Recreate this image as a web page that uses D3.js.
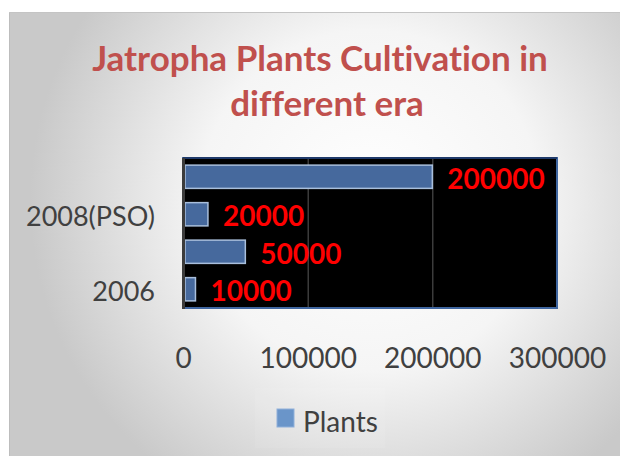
<!DOCTYPE html>
<html>
<head>
<meta charset="utf-8">
<script src="https://cdn.jsdelivr.net/npm/d3@7"></script>
<style>
  html, body { margin: 0; padding: 0; background: #fff; }
  svg { display: block; }
  text { font-variant-ligatures: none; }
</style>
</head>
<body>
<svg id="chart" width="620" height="456"></svg>
<script>
// data (bottom to top)
let categories = ["2006", "2007", "2008(PSO)", "2009"];
let plants = [10000, 50000, 20000, 200000];
let shownLabels = ["2006", "2008(PSO)"]; // Excel skips every other label
let xTicks = [0, 100000, 200000, 300000];
let titleLines = ["Jatropha Plants Cultivation in", "different era"];
let seriesName = "Plants";

let svg = d3.select("#chart");
let width = 620, height = 456;

// background gradient for the chart area
let defs = svg.append("defs");
let grad = defs.append("radialGradient")
  .attr("id", "bg")
  .attr("gradientUnits", "userSpaceOnUse")
  .attr("cx", 370).attr("cy", 200).attr("r", 340);
grad.append("stop").attr("offset", "0%").attr("stop-color", "#ffffff");
grad.append("stop").attr("offset", "50%").attr("stop-color", "#f5f5f5");
grad.append("stop").attr("offset", "100%").attr("stop-color", "#c9c9c9");

svg.append("rect")
  .attr("x", 9).attr("y", 12)
  .attr("width", width - 9).attr("height", height - 12)
  .attr("fill", "url(#bg)");
svg.append("line")
  .attr("x1", 9.5).attr("x2", 9.5).attr("y1", 12).attr("y2", height)
  .attr("stroke", "#bdbdbd");
svg.append("line")
  .attr("x1", 9).attr("x2", width).attr("y1", 12.5).attr("y2", 12.5)
  .attr("stroke", "#c4c4c4");

// title
svg.append("g").selectAll("text")
  .data(titleLines)
  .enter()
  .append("text")
  .attr("x", (d, i) => i === 0 ? 320 : 327)
  .attr("y", (d, i) => 71 + i * 45)
  .attr("text-anchor", "middle")
  .style("font-family", "Lato, 'Open Sans', sans-serif")
  .style("font-weight", "bold")
  .style("font-size", "35px")
  .style("fill", "#c0504d")
  .text(d => d);

// plot area
let plot = { left: 183, right: 557, top: 158, bottom: 308 };

let xScale = d3.scaleLinear()
  .domain([0, 300000])
  .range([plot.left, plot.right]);

let yScale = d3.scaleBand()
  .domain(categories.slice().reverse())
  .range([plot.top, plot.bottom])
  .paddingInner(0.38)
  .paddingOuter(0.19);

svg.append("rect")
  .attr("x", plot.left).attr("y", plot.top)
  .attr("width", plot.right - plot.left).attr("height", plot.bottom - plot.top)
  .attr("fill", "#000");

// gridlines
svg.append("g").selectAll("line")
  .data(xTicks.slice(1, 3))
  .enter()
  .append("line")
  .attr("x1", d => xScale(d) + 0.5).attr("x2", d => xScale(d) + 0.5)
  .attr("y1", plot.top).attr("y2", plot.bottom)
  .attr("stroke", "#5a5a5a")
  .attr("stroke-width", 1);

// bars
svg.append("g").selectAll("rect")
  .data(categories)
  .enter()
  .append("rect")
  .attr("x", xScale(0) + 2)
  .attr("y", d => yScale(d))
  .attr("width", (d, i) => xScale(plants[i]) - xScale(0) - 2)
  .attr("height", yScale.bandwidth())
  .attr("fill", "#46699d")
  .attr("stroke", "#a9bfdc")
  .attr("stroke-width", 1.5);

// plot border
svg.append("rect")
  .attr("x", plot.left).attr("y", plot.top)
  .attr("width", plot.right - plot.left).attr("height", plot.bottom - plot.top)
  .attr("fill", "none")
  .attr("stroke", "#3f66a0")
  .attr("stroke-width", 2);
svg.append("line")
  .attr("x1", plot.left).attr("x2", plot.right).attr("y1", plot.top).attr("y2", plot.top)
  .attr("stroke", "#1f3a6a").attr("stroke-width", 2);

// value axis line (left)
svg.append("line")
  .attr("x1", plot.left + 0.5).attr("x2", plot.left + 0.5)
  .attr("y1", plot.top).attr("y2", plot.bottom + 1)
  .attr("stroke", "#3c3c3c")
  .attr("stroke-width", 3);

// data labels
svg.append("g").selectAll("text")
  .data(categories)
  .enter()
  .append("text")
  .attr("x", (d, i) => xScale(plants[i]) + 15)
  .attr("y", d => yScale(d) + yScale.bandwidth() / 2)
  .attr("dy", "0.42em")
  .style("font-family", "Lato, 'Open Sans', sans-serif")
  .style("font-weight", "bold")
  .style("font-size", "28px")
  .style("fill", "#ff0000")
  .text((d, i) => plants[i]);

// category axis labels
let xAxis = d3.axisBottom(xScale)
  .tickValues(xTicks)
  .tickSize(0)
  .tickPadding(0)
  .tickFormat(d3.format("d"));
let gx = svg.append("g")
  .attr("transform", "translate(0," + 368 + ")")
  .call(xAxis);
gx.select(".domain").remove();
gx.selectAll("text")
  .attr("dy", 0)
  .style("font-family", "Lato, 'Open Sans', sans-serif")
  .style("font-size", "28px")
  .style("fill", "#404040");

let yAxis = d3.axisLeft(yScale)
  .tickSize(0)
  .tickPadding(28)
  .tickFormat(d => shownLabels.includes(d) ? d : "");
let gy = svg.append("g")
  .attr("transform", "translate(" + plot.left + ",0)")
  .call(yAxis);
gy.select(".domain").remove();
gy.selectAll("text")
  .attr("dy", "0.45em")
  .style("font-family", "Lato, 'Open Sans', sans-serif")
  .style("font-size", "27px")
  .style("fill", "#404040");

// legend
let legend = svg.append("g");
legend.append("rect")
  .attr("x", 255).attr("y", 388).attr("width", 130).attr("height", 60)
  .attr("fill", "#ffffff").attr("opacity", 0.08);
legend.append("rect")
  .attr("x", 277).attr("y", 409).attr("width", 17).attr("height", 18)
  .attr("fill", "#6a95c9")
  .attr("stroke", "#8fb0da");
legend.append("text")
  .attr("x", 303).attr("y", 432)
  .style("font-family", "Lato, 'Open Sans', sans-serif")
  .style("font-size", "28px")
  .style("fill", "#404040")
  .text(seriesName);
</script>
</body>
</html>
